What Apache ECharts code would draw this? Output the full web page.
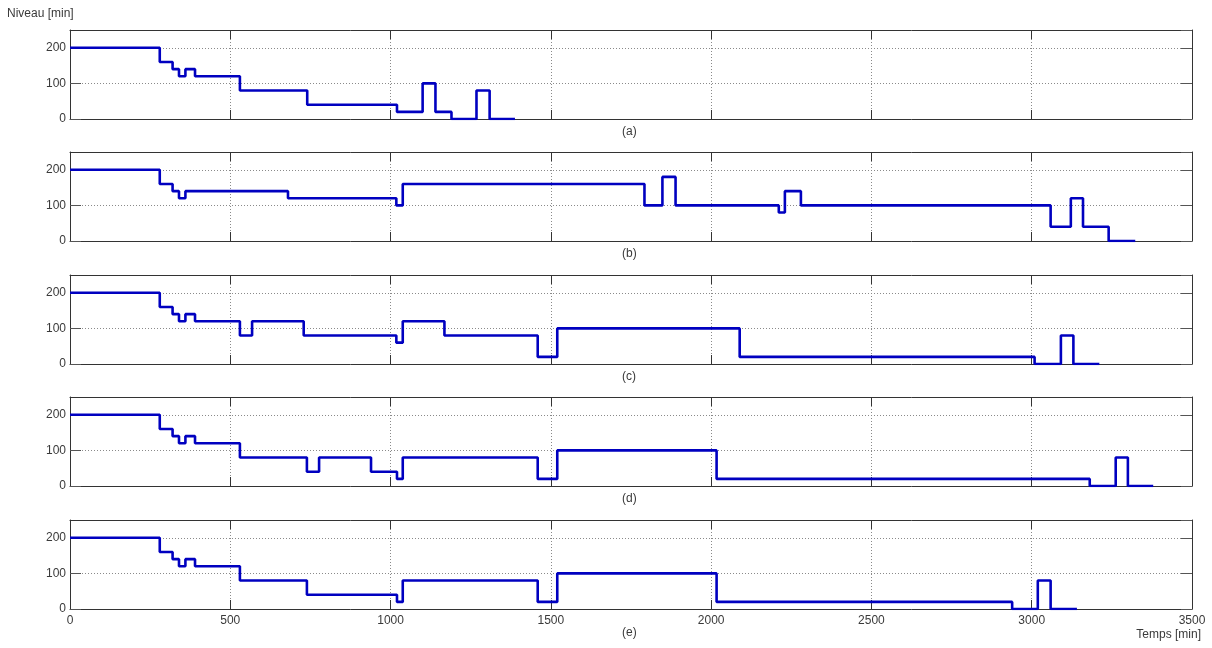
<!DOCTYPE html>
<html>
<head>
<meta charset="utf-8">
<script src="https://cdn.jsdelivr.net/npm/echarts@6/dist/echarts.min.js"></script>
<style>
html,body{margin:0;padding:0;background:#fff;}
#chart{width:1212px;height:648px;}
</style>
</head>
<body>
<div id="chart"></div>
<script>
// Step change times [min] and level held from that time [min]
const timesA  = [0, 280, 320, 340, 360, 390, 530, 740, 1020, 1100, 1140, 1190, 1268, 1309, 1388];
const levelsA = [200, 160, 140, 120, 140, 120, 80, 40, 20, 100, 20, 0, 80, 0, 0];

const timesB  = [0, 280, 320, 340, 360, 680, 1018, 1038, 1792, 1848, 1889, 2211, 2230, 2280, 3059, 3122, 3160, 3240, 3323];
const levelsB = [200, 160, 140, 120, 140, 120, 100, 160, 100, 180, 100, 80, 140, 100, 40, 120, 40, 0, 0];

const timesC  = [0, 280, 320, 340, 360, 390, 530, 568, 729, 1018, 1038, 1168, 1459, 1520, 2089, 3009, 3091, 3130, 3211];
const levelsC = [200, 160, 140, 120, 140, 120, 80, 120, 80, 60, 120, 80, 20, 100, 20, 0, 80, 0, 0];

const timesD  = [0, 280, 320, 340, 360, 390, 530, 739, 777, 939, 1020, 1038, 1459, 1520, 2017, 3181, 3262, 3300, 3379];
const levelsD = [200, 160, 140, 120, 140, 120, 80, 40, 80, 40, 20, 80, 20, 100, 20, 0, 80, 0, 0];

const timesE  = [0, 280, 320, 340, 360, 390, 530, 739, 1020, 1038, 1459, 1520, 2017, 2939, 3019, 3059, 3141];
const levelsE = [200, 160, 140, 120, 140, 120, 80, 40, 20, 80, 20, 100, 20, 0, 80, 0, 0];

const panelLabels = ['(a)', '(b)', '(c)', '(d)', '(e)'];
const xTicks = [0, 500, 1000, 1500, 2000, 2500, 3000, 3500];
const yTicks = [0, 100, 200];
const yAxisTitle = 'Niveau [min]';
const xAxisTitle = 'Temps [min]';

const panels = [[timesA, levelsA], [timesB, levelsB], [timesC, levelsC], [timesD, levelsD], [timesE, levelsE]];

const tops = [30, 152, 275, 397, 520];
const plotH = 89;
const left = 70, right = 20;
const textColor = '#3a3a3a';
const boxColor = '#333';
const gridDot = {color: '#8a8a8a', width: 1, type: [1, 2]};

const grids = [], xAxes = [], yAxes = [], series = [], graphics = [];
panels.forEach((p, i) => {
  grids.push({left: left, right: right, top: tops[i], height: plotH, show: false});
  const isLast = i === panels.length - 1;
  // bottom x axis
  xAxes.push({
    type: 'value', gridIndex: i, min: xTicks[0], max: xTicks[xTicks.length - 1], interval: 500,
    position: 'bottom',
    axisLine: {show: true, onZero: false, lineStyle: {color: boxColor, width: 1}},
    axisTick: {show: true, inside: true, length: 9, lineStyle: {color: boxColor}},
    axisLabel: {show: isLast, color: textColor, fontSize: 12, fontFamily: 'Liberation Sans, Arial', margin: 6,
      formatter: v => (xTicks.indexOf(v) >= 0 ? String(v) : '')},
    splitLine: {show: true, lineStyle: gridDot}
  });
  // top x axis (box)
  xAxes.push({
    type: 'value', gridIndex: i, min: xTicks[0], max: xTicks[xTicks.length - 1], interval: 500,
    position: 'top',
    axisLine: {show: true, onZero: false, lineStyle: {color: boxColor, width: 1}},
    axisTick: {show: true, inside: true, length: 9, lineStyle: {color: boxColor}},
    axisLabel: {show: false},
    splitLine: {show: false}
  });
  yAxes.push({
    type: 'value', gridIndex: i, min: 0, max: 250, interval: 100,
    position: 'left',
    axisLine: {show: true, onZero: false, lineStyle: {color: boxColor, width: 1}},
    axisTick: {show: true, inside: true, length: 11, lineStyle: {color: '#555'}},
    axisLabel: {show: true, color: textColor, fontSize: 12, fontFamily: 'Liberation Sans, Arial', margin: 4, showMaxLabel: false,
      formatter: v => (yTicks.indexOf(v) >= 0 ? String(v) : '')},
    splitLine: {show: true, lineStyle: gridDot}
  });
  yAxes.push({
    type: 'value', gridIndex: i, min: 0, max: 250, interval: 100,
    position: 'right',
    axisLine: {show: true, onZero: false, lineStyle: {color: boxColor, width: 1}},
    axisTick: {show: true, inside: true, length: 11, lineStyle: {color: '#555'}},
    axisLabel: {show: false},
    splitLine: {show: false}
  });
  const data = p[0].map((t, k) => [t, p[1][k]]);
  series.push({
    type: 'line', step: 'end', xAxisIndex: 2 * i, yAxisIndex: 2 * i, data: data,
    showSymbol: false, symbol: 'none', animation: false,
    lineStyle: {color: '#0000c0', width: 2.6}, z: 5
  });
  graphics.push({
    type: 'text', left: 631 - 9, top: tops[i] + plotH + (isLast ? 18 : 7),
    style: {text: panelLabels[i], fill: textColor, font: '12px "Liberation Sans", Arial'}
  });
});

graphics.push({type: 'text', left: 7, top: 8, style: {text: yAxisTitle, fill: textColor, font: '12px "Liberation Sans", Arial'}});
graphics.push({type: 'text', right: 11, top: 629, style: {text: xAxisTitle, fill: textColor, font: '12px "Liberation Sans", Arial'}});

const chart = echarts.init(document.getElementById('chart'), null, {renderer: 'canvas'});
chart.setOption({
  animation: false,
  backgroundColor: '#fff',
  grid: grids,
  xAxis: xAxes,
  yAxis: yAxes,
  series: series,
  graphic: graphics
});
</script>
</body>
</html>
